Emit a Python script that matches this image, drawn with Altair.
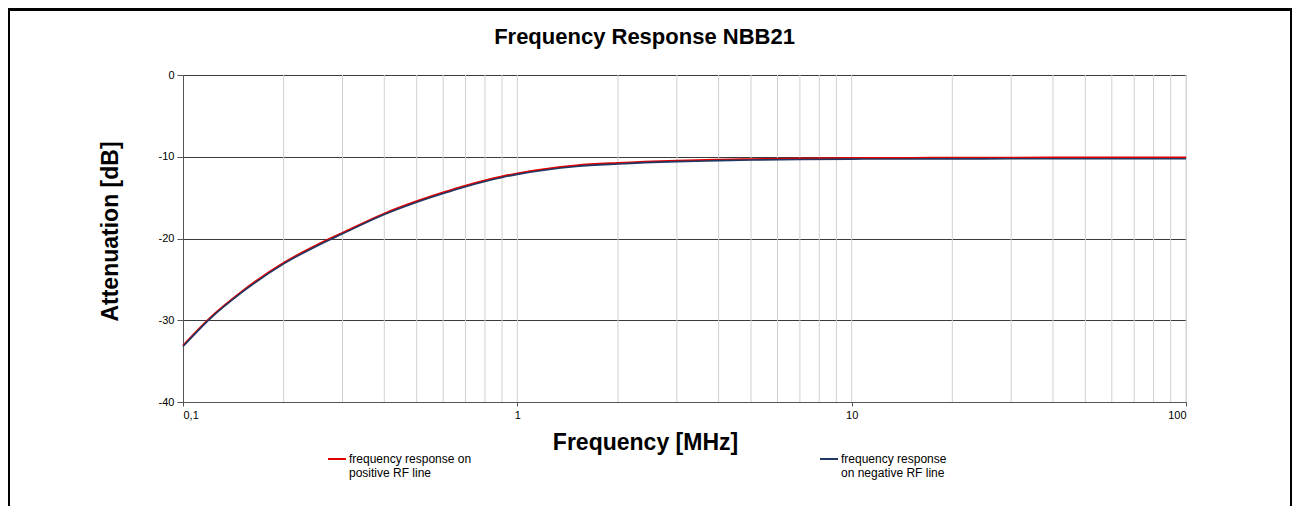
import altair as alt
import pandas as pd

# ---- data ----
freqs = [0.1, 0.12, 0.15, 0.2, 0.25, 0.3, 0.4, 0.5, 0.6, 0.7, 0.8, 0.9, 1, 1.5, 2, 3, 4, 5, 7,
         10, 15, 20, 30, 40, 50, 60, 70, 80, 100]
pos_line = [-33.1, -29.77, -26.48, -22.98, -20.85, -19.31, -16.95, -15.45, -14.38, -13.54, -12.9,
            -12.41, -12.04, -11.07, -10.76, -10.48, -10.36, -10.3, -10.22, -10.16, -10.14, -10.12,
            -10.11, -10.1, -10.1, -10.1, -10.1, -10.1, -10.1]
neg_line = [-33.22, -29.89, -26.6, -23.1, -20.97, -19.43, -17.07, -15.57, -14.5, -13.66, -13.02,
            -12.53, -12.16, -11.19, -10.88, -10.6, -10.48, -10.4, -10.33, -10.29, -10.27, -10.26,
            -10.25, -10.24, -10.25, -10.25, -10.25, -10.25, -10.25]
series_names = ["frequency response on|positive RF line", "frequency response|on negative RF line"]
series_colors = ["#e00000", "#1f3864"]
grid_freqs = [0.2, 0.3, 0.4, 0.5, 0.6, 0.7, 0.8, 0.9, 1, 2, 3, 4, 5, 6, 7, 8, 9, 10,
              20, 30, 40, 50, 60, 70, 80, 90, 100]
x_ticks = [0.1, 1, 10, 100]
y_ticks = [0, -10, -20, -30, -40]

df = pd.DataFrame({
    "freq": freqs * 2,
    "att": pos_line + neg_line,
    "series": [series_names[0]] * len(freqs) + [series_names[1]] * len(freqs),
})
grid_df = pd.DataFrame({"freq": grid_freqs})

FONT = "Liberation Sans"

xscale = alt.Scale(type="log", domain=[0.1, 100], nice=False)
yscale = alt.Scale(domain=[-40, 0], nice=False)

x_axis = alt.Axis(
    values=x_ticks,
    format="~g",
    labelExpr="replace(datum.label, '.', ',')",
    grid=False,
    tickSize=4,
    tickColor="#555555",
    domainColor="#555555",
    labelFont=FONT,
    labelFontSize=11,
    labelColor="#000000",
    labelPadding=3,
    title="Frequency [MHz]",
    titleFont=FONT,
    titleFontSize=23,
    titleFontWeight="bold",
    titleColor="#000000",
    titleX=462,
    titleY=47,
    titleAlign="center",
    titleBaseline="alphabetic",
)

grid = alt.Chart(grid_df).mark_rule(color="#d0d0d0", strokeWidth=1).encode(
    x=alt.X("freq:Q", scale=xscale, axis=x_axis)
)

color = alt.Color(
    "series:N",
    scale=alt.Scale(domain=series_names, range=series_colors),
    legend=alt.Legend(
        title=None,
        orient="none",
        legendX=144,
        legendY=374,
        columns=2,
        columnPadding=344,
        symbolType="stroke",
        symbolSize=324,
        symbolStrokeWidth=2,
        labelExpr="split(datum.label, '|')",
        labelFont=FONT,
        labelFontSize=12,
        labelColor="#000000",
        labelOffset=2,
        labelLimit=400,
    ),
)

base = alt.Chart(df).encode(
    x=alt.X("freq:Q", scale=xscale, axis=x_axis),
    y=alt.Y(
        "att:Q",
        scale=yscale,
        axis=alt.Axis(
            values=y_ticks,
            labelExpr="'' + datum.value",
            grid=True,
            gridColor="#3a3a3a",
            gridWidth=1,
            tickSize=6,
            tickColor="#555555",
            domainColor="#555555",
            labelFont=FONT,
            labelFontSize=11,
            labelColor="#000000",
            labelPadding=3,
            title="Attenuation [dB]",
            titleFont=FONT,
            titleFontSize=23,
            titleFontWeight="bold",
            titleColor="#000000",
            titleX=-66,
            titleY=156,
            titleAlign="center",
            titleBaseline="alphabetic",
        ),
    ),
    color=color,
)

pos_layer = base.transform_filter(alt.datum.series == series_names[0]).mark_line(
    strokeWidth=2, interpolate="monotone"
)
neg_layer = base.transform_filter(alt.datum.series == series_names[1]).mark_line(
    strokeWidth=1.6, interpolate="monotone"
)

frame = alt.Chart(alt.Data(values=[{"k": 1}])).mark_rect(
    filled=False, stroke="#000000", strokeWidth=3
).encode(
    x=alt.value(-174.5),
    x2=alt.value(1108.5),
    y=alt.value(-65.5),
    y2=alt.value(700),
)

chart = alt.layer(grid, pos_layer, neg_layer, frame).properties(
    width=1003,
    height=327,
    title=alt.TitleParams(
        "Frequency Response NBB21",
        font=FONT,
        fontSize=22,
        fontWeight="bold",
        color="#000000",
        anchor="middle",
        frame="group",
        baseline="alphabetic",
        dx=-40,
        dy=58,
        offset=0,
    ),
    autosize=alt.AutoSizeParams(type="none"),
    padding={"left": 175, "top": 67, "right": 106, "bottom": 104},
).configure_view(stroke=None).configure(background="#ffffff")

chart.save("out.html", embed_options={"renderer": "svg", "actions": False})
